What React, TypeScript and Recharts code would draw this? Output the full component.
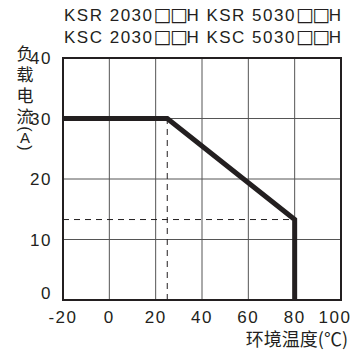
import { LineChart, Line, XAxis, YAxis, CartesianGrid, ReferenceLine, ReferenceArea } from 'recharts';

// derating curve: ambient temperature (°C) vs load current (A)
const temperatures = [-20, 25, 80, 80];
const currents = [30, 30, 13.3, 0];
const kneeTemp = 25;
const kneeCurrent = 30;
const deratedCurrent = 13.3;
const maxTemp = 80;

const xTicks = [-20, 0, 20, 40, 60, 80, 100];
const yTicks = [0, 10, 20, 30, 40];
const titleLines = [
  ['KSR 2030', '□□', 'H KSR 5030', '□□', 'H'],
  ['KSC 2030', '□□', 'H KSC 5030', '□□', 'H'],
];
const yLabelChars = ['负', '载', '电', '流'];
const yLabelUnit = 'A';
const xLabel = '环境温度(℃)';

const data = temperatures.map((t, i) => ({ temp: t, current: currents[i] }));

const FONT = '"Liberation Sans", "DejaVu Sans", sans-serif';
const CJK = '"Noto Sans CJK SC", sans-serif';
const INK = '#231f20';

function XTick(props: any) {
  const { x, y, payload } = props;
  const shift = payload.value === 100 ? -6 : 0;
  return (
    <text x={x + shift} y={y + 15} textAnchor="middle" fontSize={17} fontFamily={FONT} fill={INK} letterSpacing={1.5}>
      {payload.value}
    </text>
  );
}

function YTick(props: any) {
  const { x, y, payload } = props;
  const dy = payload.value === 0 ? -1 : 6;
  return (
    <text x={x - 3} y={y + dy} textAnchor="end" fontSize={17} fontFamily={FONT} fill={INK} letterSpacing={1.5}>
      {payload.value}
    </text>
  );
}

export default function App() {
  return (
    <div style={{ position: 'absolute', left: 0, top: 0, width: 359, height: 351, background: '#fff' }}>
      <svg width={359} height={351} style={{ position: 'absolute', left: 0, top: 0 }}>
        {titleLines.map((parts, i) => (
          <text key={i} x={64} y={21 + i * 22} fontSize={17} fontFamily={FONT} fill={INK} letterSpacing={1.5}>
            {parts.map((p, j) =>
              p.startsWith('□') ? (
                <tspan key={j} fontFamily='"DejaVu Sans"' fontSize={19} letterSpacing={-1.5}>
                  {p}
                </tspan>
              ) : (
                <tspan key={j}>{p}</tspan>
              )
            )}
          </text>
        ))}
        {/* vertical y-axis title */}
        <text x={25} y={60} textAnchor="middle" fontSize={17} fontFamily={CJK} fill={INK}>
          {yLabelChars.map((c, i) => (
            <tspan key={i} x={25} dy={i === 0 ? 0 : 21}>
              {c}
            </tspan>
          ))}
        </text>
        <text x={25} y={129} transform="rotate(90 25 129)" textAnchor="middle" dominantBaseline="central" fontSize={16} fontFamily={FONT} fill={INK}>
          (
        </text>
        <text x={25} y={143} textAnchor="middle" fontSize={15} fontFamily={FONT} fill={INK}>
          {yLabelUnit}
        </text>
        <text x={25} y={148} transform="rotate(90 25 148)" textAnchor="middle" dominantBaseline="central" fontSize={16} fontFamily={FONT} fill={INK}>
          )
        </text>
        <text x={348} y={346} textAnchor="end" fontSize={18} fontFamily={CJK} fill={INK}>
          {xLabel}
        </text>
      </svg>
      <LineChart
        width={359}
        height={351}
        data={data}
        margin={{ top: 58, right: 18, bottom: 21, left: 0 }}
        style={{ position: 'absolute', left: 0, top: 0 }}
      >
        <CartesianGrid stroke="#555" strokeWidth={1} horizontalValues={yTicks} verticalValues={xTicks} />
        <XAxis
          dataKey="temp"
          type="number"
          domain={[-20, 100]}
          ticks={xTicks}
          height={30}
          axisLine={false}
          tickLine={false}
          tick={<XTick />}
          interval={0}
        />
        <YAxis
          type="number"
          domain={[0, 40]}
          ticks={yTicks}
          width={63}
          axisLine={false}
          tickLine={false}
          tick={<YTick />}
          interval={0}
        />
        <ReferenceArea x1={-20} x2={100} y1={0} y2={40} fill="none" stroke={INK} strokeWidth={2} />
        <ReferenceLine
          segment={[{ x: kneeTemp, y: 0 }, { x: kneeTemp, y: kneeCurrent }]}
          stroke={INK}
          strokeDasharray="6 5"
          strokeWidth={1}
        />
        <ReferenceLine
          segment={[{ x: -20, y: deratedCurrent }, { x: maxTemp, y: deratedCurrent }]}
          stroke={INK}
          strokeDasharray="6 5"
          strokeWidth={1}
        />
        <Line
          type="linear"
          dataKey="current"
          stroke={INK}
          strokeWidth={5}
          dot={false}
          strokeLinejoin="miter"
          isAnimationActive={false}
        />
      </LineChart>
    </div>
  );
}
